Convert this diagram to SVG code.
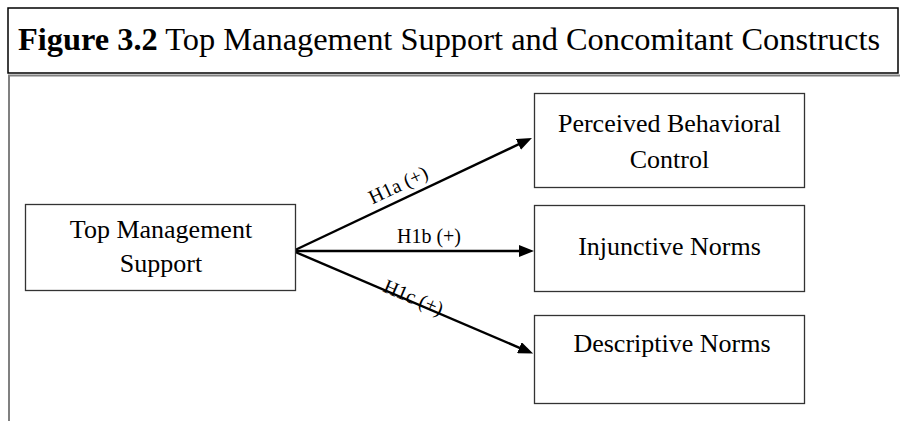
<svg xmlns="http://www.w3.org/2000/svg" width="900" height="421" viewBox="0 0 900 421">
  <style>
    .frame { fill: none; stroke: #000; stroke-width: 1.5; }
    .panel { fill: none; stroke: #808080; stroke-width: 2; }
    .box { fill: #fff; stroke: #333; stroke-width: 1.3; }
    .label { font-family: "Liberation Serif", "Times New Roman", serif; font-size: 26px; fill: #000; text-anchor: middle; }
    .path-label { font-family: "Liberation Serif", "Times New Roman", serif; font-size: 20px; fill: #000; text-anchor: middle; }
    .title { font-family: "Liberation Serif", "Times New Roman", serif; font-size: 32.4px; fill: #000; }
    .arrow { stroke: #000; stroke-width: 2.4; fill: none; marker-end: url(#head); }
  </style>
  <defs>
    <marker id="head" markerUnits="userSpaceOnUse" markerWidth="15" markerHeight="12" refX="4" refY="6" orient="auto">
      <path d="M0,0 L15,6 L0,12 z" fill="#000"/>
    </marker>
  </defs>

  <rect width="900" height="421" fill="#fff"/>

  <!-- title bar -->
  <g id="title">
    <rect class="frame" x="8" y="8" width="890" height="65"/>
    <text class="title" x="18" y="50"><tspan font-weight="bold">Figure 3.2</tspan> Top Management Support and Concomitant Constructs</text>
  </g>

  <!-- figure panel edges -->
  <path class="panel" d="M8,75.5 H900 M9,75 V421"/>

  <!-- connectors -->
  <g id="connectors">
    <line class="arrow" x1="293" y1="251" x2="522" y2="142.7"/>
    <line class="arrow" x1="293" y1="251" x2="523" y2="251"/>
    <line class="arrow" x1="293" y1="251" x2="523" y2="349.3"/>
    <text class="path-label" transform="translate(401,191) rotate(-25.4)">H1a (+)</text>
    <text class="path-label" x="429" y="243">H1b (+)</text>
    <text class="path-label" transform="translate(411,303.5) rotate(23.1)">H1c (+)</text>
  </g>

  <!-- nodes -->
  <g id="top-management-support">
    <rect class="box" x="25.5" y="204.5" width="270" height="86"/>
    <text class="label" x="161" y="238">Top Management</text>
    <text class="label" x="161" y="271.5">Support</text>
  </g>

  <g id="perceived-behavioral-control">
    <rect class="box" x="534.5" y="93.5" width="270" height="94"/>
    <text class="label" x="669.5" y="131.5">Perceived Behavioral</text>
    <text class="label" x="669.5" y="168">Control</text>
  </g>

  <g id="injunctive-norms">
    <rect class="box" x="534.5" y="205.5" width="270" height="86"/>
    <text class="label" x="669.5" y="255">Injunctive Norms</text>
  </g>

  <g id="descriptive-norms">
    <rect class="box" x="534.5" y="315.5" width="270" height="88"/>
    <text class="label" x="672" y="352">Descriptive Norms</text>
  </g>
</svg>
